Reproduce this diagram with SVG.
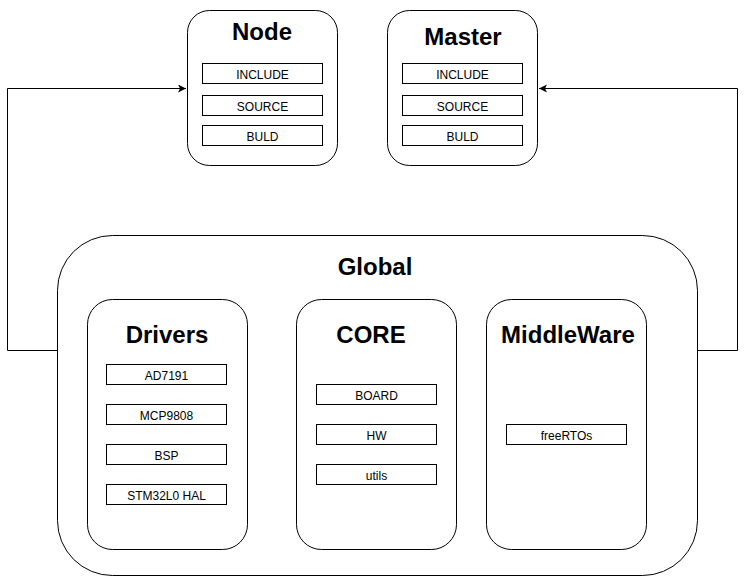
<svg xmlns="http://www.w3.org/2000/svg" width="746" height="576" viewBox="0 0 746 576">
<defs>
<style>
.box{fill:#fff;stroke:#000;stroke-width:1}
.item{fill:#fff;stroke:#000;stroke-width:1}
.title{font-family:"Liberation Sans",Arial,sans-serif;font-weight:bold;font-size:24px;text-anchor:middle;fill:#000}
.lbl{font-family:"Liberation Sans",Arial,sans-serif;font-size:12px;text-anchor:middle;fill:#000}
.conn{fill:none;stroke:#000;stroke-width:1}
</style>
<marker id="arr" markerWidth="10" markerHeight="10" refX="8" refY="4" orient="auto" markerUnits="userSpaceOnUse">
<path d="M0,0 L8,4 L0,8 L2,4 Z" fill="#000"/>
</marker>
</defs>
<rect width="746" height="576" fill="#fff"/>
<g id="connectors">
<path class="conn" d="M57.5,350.5 H7.5 V88.5 H186" marker-end="url(#arr)"/>
<path class="conn" d="M697.5,350.5 H737.5 V88.5 H539" marker-end="url(#arr)"/>
</g>
<g id="node">
<rect class="box" x="187.5" y="10.5" width="150" height="155" rx="22"/>
<text class="title" x="262" y="40">Node</text>
<rect class="item" x="202.5" y="63.5" width="120" height="20"/>
<text class="lbl" x="262.5" y="79">INCLUDE</text>
<rect class="item" x="202.5" y="95.5" width="120" height="20"/>
<text class="lbl" x="262.5" y="111">SOURCE</text>
<rect class="item" x="202.5" y="125.5" width="120" height="20"/>
<text class="lbl" x="262.5" y="141">BULD</text>
</g>
<g id="master">
<rect class="box" x="387.5" y="10.5" width="150" height="155" rx="22"/>
<text class="title" x="463" y="45">Master</text>
<rect class="item" x="402.5" y="63.5" width="120" height="20"/>
<text class="lbl" x="462.5" y="79">INCLUDE</text>
<rect class="item" x="402.5" y="95.5" width="120" height="20"/>
<text class="lbl" x="462.5" y="111">SOURCE</text>
<rect class="item" x="402.5" y="125.5" width="120" height="20"/>
<text class="lbl" x="462.5" y="141">BULD</text>
</g>
<g id="global">
<rect class="box" x="57.5" y="235.5" width="640" height="340" rx="55"/>
<text class="title" x="375" y="275">Global</text>
</g>
<g id="drivers">
<rect class="box" x="87.5" y="299.5" width="160" height="250" rx="25"/>
<text class="title" x="167" y="343">Drivers</text>
<rect class="item" x="106.5" y="364.5" width="120" height="20"/>
<text class="lbl" x="166.5" y="380">AD7191</text>
<rect class="item" x="106.5" y="404.5" width="120" height="20"/>
<text class="lbl" x="166.5" y="420">MCP9808</text>
<rect class="item" x="106.5" y="444.5" width="120" height="20"/>
<text class="lbl" x="166.5" y="460">BSP</text>
<rect class="item" x="106.5" y="484.5" width="120" height="20"/>
<text class="lbl" x="166.5" y="500">STM32L0 HAL</text>
</g>
<g id="core">
<rect class="box" x="296.5" y="299.5" width="160" height="250" rx="25"/>
<text class="title" x="371" y="343">CORE</text>
<rect class="item" x="316.5" y="384.5" width="120" height="20"/>
<text class="lbl" x="376.5" y="400">BOARD</text>
<rect class="item" x="316.5" y="424.5" width="120" height="20"/>
<text class="lbl" x="376.5" y="440">HW</text>
<rect class="item" x="316.5" y="464.5" width="120" height="20"/>
<text class="lbl" x="376.5" y="480">utils</text>
</g>
<g id="middleware">
<rect class="box" x="486.5" y="299.5" width="160" height="250" rx="25"/>
<text class="title" x="568" y="343">MiddleWare</text>
<rect class="item" x="506.5" y="424.5" width="120" height="20"/>
<text class="lbl" x="566.5" y="440">freeRTOs</text>
</g>
</svg>
